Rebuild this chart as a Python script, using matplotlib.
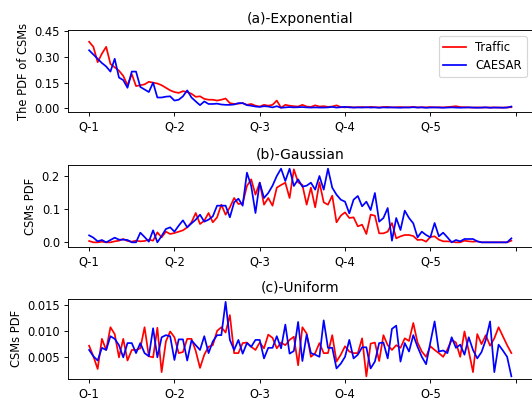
import matplotlib
matplotlib.use("Agg")
import matplotlib.pyplot as plt
import numpy as np

xtick_labels = ["Q-1", "Q-2", "Q-3", "Q-4", "Q-5"]
series_names = ["Traffic", "CAESAR"]
titles = ["(a)-Exponential", "(b)-Gaussian", "(c)-Uniform"]
ylabels = ["The PDF of CSMs", "CSMs PDF", "CSMs PDF"]

exp_traffic = [0.39, 0.36, 0.27, 0.32, 0.36, 0.26, 0.24, 0.22, 0.19, 0.135,
               0.20, 0.13, 0.135, 0.14, 0.155, 0.15, 0.145, 0.135, 0.12, 0.105,
               0.095, 0.09, 0.1, 0.095, 0.085, 0.067, 0.07, 0.055, 0.05, 0.05,
               0.045, 0.05, 0.057, 0.03, 0.025, 0.027, 0.03, 0.02, 0.025, 0.015,
               0.01, 0.02, 0.015, 0.02, 0.045, 0.003, 0.02, 0.015, 0.012, 0.01,
               0.02, 0.01, 0.008, 0.017, 0.01, 0.012, 0.008, 0.01, 0.017, 0.007,
               0.005, 0.008, 0.005, 0.006, 0.007, 0.005, 0.008, 0.006, 0.005, 0.007,
               0.008, 0.005, 0.006, 0.007, 0.005, 0.006, 0.008, 0.005, 0.006, 0.005,
               0.007, 0.005, 0.006, 0.005, 0.007, 0.009, 0.012, 0.007, 0.006, 0.005,
               0.004, 0.005, 0.004, 0.005, 0.004, 0.005, 0.004, 0.004, 0.005, 0.006]
exp_caesar = [0.34, 0.315, 0.29, 0.265, 0.245, 0.215, 0.29, 0.18, 0.165, 0.12,
              0.215, 0.215, 0.125, 0.11, 0.095, 0.15, 0.063, 0.063, 0.068, 0.07,
              0.045, 0.05, 0.07, 0.105, 0.063, 0.04, 0.018, 0.04, 0.025, 0.025,
              0.027, 0.022, 0.02, 0.02, 0.022, 0.03, 0.03, 0.018, 0.015, 0.01,
              0.008, 0.012, 0.01, 0.005, 0.012, 0.003, 0.005, 0.007, 0.005, 0.006,
              0.007, 0.005, 0.004, 0.005, 0.004, 0.004, 0.005, 0.008, 0.004, 0.006,
              0.008, 0.005, 0.004, 0.005, 0.004, 0.006, 0.004, 0.005, 0.003, 0.005,
              0.004, 0.005, 0.004, 0.003, 0.005, 0.004, 0.006, 0.004, 0.005, 0.003,
              0.004, 0.005, 0.004, 0.003, 0.004, 0.005, 0.004, 0.003, 0.004, 0.005,
              0.004, 0.003, 0.004, 0.005, 0.003, 0.004, 0.004, 0.003, 0.004, 0.01]

gauss_traffic = [0.004, 0.0, 0.0, 0.002, 0.0, 0.0, 0.003, 0.005, 0.01, 0.004,
                 0.002, 0.005, 0.003, 0.004, 0.008, 0.005, 0.03, 0.015, 0.032, 0.025,
                 0.028, 0.032, 0.036, 0.045, 0.06, 0.088, 0.055, 0.065, 0.088, 0.06,
                 0.075, 0.113, 0.083, 0.105, 0.133, 0.115, 0.117, 0.169, 0.189, 0.143,
                 0.179, 0.113, 0.133, 0.11, 0.164, 0.172, 0.179, 0.133, 0.219, 0.18,
                 0.172, 0.113, 0.164, 0.105, 0.18, 0.12, 0.113, 0.14, 0.06, 0.08,
                 0.09, 0.073, 0.075, 0.048, 0.053, 0.025, 0.083, 0.08, 0.027, 0.027,
                 0.032, 0.058, 0.012, 0.018, 0.022, 0.022, 0.019, 0.007, 0.008, 0.002,
                 0.016, 0.018, 0.008, 0.003, 0.003, 0.002, 0.0, 0.0, 0.005, 0.003,
                 0.002, 0.003, 0.0, 0.0, 0.0, 0.0, 0.0, 0.0, 0.0, 0.005]
gauss_caesar = [0.021, 0.014, 0.003, 0.007, 0.0, 0.007, 0.014, 0.008, 0.008, 0.007,
                0.0, 0.0, 0.029, 0.016, 0.002, 0.036, 0.0, 0.019, 0.04, 0.045,
                0.032, 0.05, 0.066, 0.045, 0.057, 0.068, 0.083, 0.062, 0.068, 0.078,
                0.11, 0.11, 0.11, 0.075, 0.12, 0.131, 0.11, 0.209, 0.169, 0.088,
                0.179, 0.133, 0.148, 0.17, 0.199, 0.221, 0.184, 0.221, 0.169, 0.189,
                0.167, 0.17, 0.179, 0.158, 0.199, 0.158, 0.221, 0.164, 0.143, 0.128,
                0.122, 0.087, 0.128, 0.139, 0.108, 0.122, 0.097, 0.148, 0.062, 0.073,
                0.103, 0.005, 0.073, 0.037, 0.095, 0.073, 0.057, 0.015, 0.032, 0.022,
                0.015, 0.058, 0.018, 0.029, 0.015, 0.0, 0.007, 0.003, 0.01, 0.01,
                0.01, 0.003, 0.0, 0.0, 0.0, 0.0, 0.0, 0.0, 0.0, 0.012]

unif_traffic = [0.0072, 0.0052, 0.0028, 0.0085, 0.0064, 0.0107, 0.0094, 0.005, 0.0085, 0.0044,
                0.0064, 0.0064, 0.0067, 0.0107, 0.0052, 0.005, 0.0106, 0.0022, 0.008, 0.0099,
                0.0088, 0.0058, 0.006, 0.0085, 0.0085, 0.0062, 0.003, 0.0055, 0.007, 0.0073,
                0.01, 0.0107, 0.0097, 0.013, 0.0058, 0.0058, 0.0077, 0.0078, 0.007, 0.0064,
                0.0078, 0.0067, 0.0093, 0.0087, 0.0067, 0.0078, 0.0073, 0.0083, 0.0089, 0.0035,
                0.0107, 0.0095, 0.0051, 0.0058, 0.0077, 0.0058, 0.0058, 0.0092, 0.0042, 0.0055,
                0.0071, 0.0061, 0.0058, 0.0058, 0.0086, 0.0014, 0.0076, 0.0078, 0.0043, 0.0092,
                0.0073, 0.0064, 0.0073, 0.0068, 0.0086, 0.0081, 0.0115, 0.0078, 0.0061, 0.0051,
                0.0071, 0.0064, 0.0058, 0.0051, 0.0065, 0.0083, 0.0078, 0.0051, 0.0099, 0.0062,
                0.0022, 0.0094, 0.0075, 0.0092, 0.0072, 0.0086, 0.0107, 0.009, 0.0073, 0.0058]
unif_caesar = [0.0064, 0.0052, 0.0044, 0.0068, 0.0064, 0.009, 0.0085, 0.0073, 0.005, 0.0077,
               0.0077, 0.0058, 0.0077, 0.0058, 0.0052, 0.0105, 0.005, 0.0088, 0.0092, 0.009,
               0.0045, 0.0084, 0.0084, 0.0044, 0.0082, 0.0073, 0.0064, 0.009, 0.0058, 0.008,
               0.0092, 0.0092, 0.0155, 0.0083, 0.0064, 0.0083, 0.0057, 0.0077, 0.007, 0.0083,
               0.0083, 0.0048, 0.0068, 0.0068, 0.009, 0.0067, 0.0112, 0.0057, 0.0062, 0.0117,
               0.0043, 0.0093, 0.0058, 0.0055, 0.0051, 0.012, 0.0068, 0.0068, 0.0029, 0.0038,
               0.0051, 0.0083, 0.0048, 0.0055, 0.0069, 0.0069, 0.0029, 0.0042, 0.0077, 0.0078,
               0.0048, 0.0104, 0.011, 0.0042, 0.0077, 0.0061, 0.0092, 0.007, 0.0051, 0.0037,
               0.0078, 0.0118, 0.0061, 0.0063, 0.0058, 0.0088, 0.0068, 0.0074, 0.0055, 0.0088,
               0.0064, 0.0048, 0.006, 0.0083, 0.0118, 0.0022, 0.0074, 0.0063, 0.0051, 0.0014]

W, H = 532, 398
fig = plt.figure(figsize=(W / 83, H / 83), dpi=83)

# axes boxes in pixels: (left, bottom_from_top, right, top_from_top)
boxes = [(68, 112, 532.5, 30.3), (68, 247, 532.5, 165), (68, 379, 532.5, 298.7)]
data = [(exp_traffic, exp_caesar), (gauss_traffic, gauss_caesar), (unif_traffic, unif_caesar)]
ylims = [(-0.022, 0.457), (-0.014, 0.232), (0.0009, 0.0161)]
yticks = [[0.0, 0.15, 0.30, 0.45], [0.0, 0.1, 0.2], [0.005, 0.010, 0.015]]
yfmt = ["{:.2f}", "{:.1f}", "{:.3f}"]

for k in range(3):
    l, b, r, t = boxes[k]
    ax = fig.add_axes([l / W, 1 - b / H, (r - l) / W, (b - t) / H])
    tr, ca = data[k]
    x = np.arange(len(tr))
    ax.plot(x, tr, color="red", label=series_names[0])
    ax.plot(x, ca, color="blue", label=series_names[1])
    ax.set_xticks(np.arange(0, 101, 20))
    ax.set_xticklabels(xtick_labels + [""])
    ax.set_yticks(yticks[k])
    ax.set_yticklabels([yfmt[k].format(v) for v in yticks[k]])
    ax.set_ylim(*ylims[k])
    ax.set_title(titles[k])
    ax.set_ylabel(ylabels[k])
    if k == 0:
        ax.legend(loc="upper right")

fig.savefig("out.png", dpi=83)
